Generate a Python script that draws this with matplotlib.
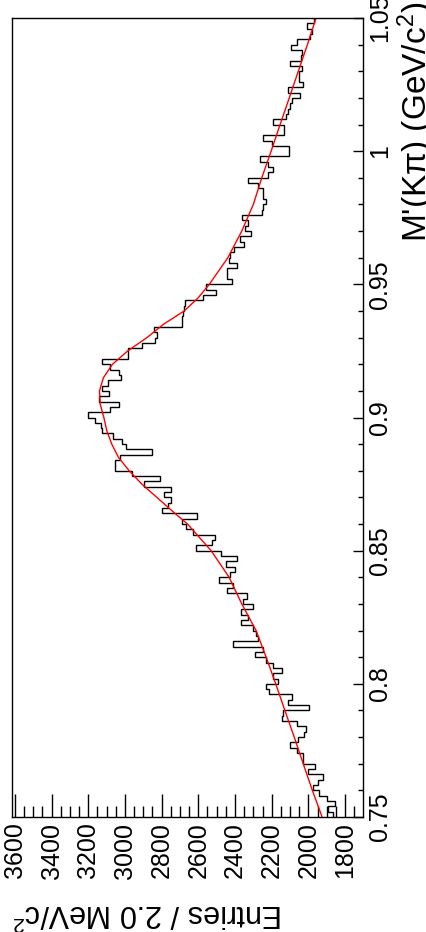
import numpy as np
import matplotlib.pyplot as plt

plt.rcParams['font.family'] = ['Liberation Sans', 'DejaVu Sans']
plt.rcParams['mathtext.fontset'] = 'custom'
plt.rcParams['mathtext.rm'] = 'Liberation Sans'
plt.rcParams['mathtext.it'] = 'Liberation Sans:italic'

# ── Data ──────────────────────────────────────────────────────────
M_LO, BIN_W = 0.75, 0.002

counts = [
    1864, 1891, 1857, 1900, 1942, 1973, 1946, 1918, 2000, 1964,
    2027, 2027, 2063, 2100, 2054, 2023, 2012, 2063, 2142, 2136,
    1994, 2113, 2088, 2212, 2232, 2167, 2191, 2145, 2191, 2232,
    2290, 2245, 2409, 2272, 2284, 2303, 2369, 2327, 2367, 2303,
    2358, 2336, 2441, 2412, 2487, 2427, 2400, 2449, 2387, 2477,
    2612, 2527, 2509, 2627, 2667, 2687, 2608, 2799, 2768, 2748,
    2785, 2748, 2894, 2808, 2959, 3057, 3057, 3026, 2854, 2995,
    3017, 3063, 3126, 3130, 3166, 3199, 3084, 3035, 3141, 3086,
    3123, 3090, 3021, 3035, 3081, 3123, 2984, 2981, 2908, 2836,
    2823, 2841, 2690, 2690, 2684, 2680, 2672, 2572, 2503, 2558,
    2418, 2445, 2445, 2390, 2431, 2425, 2403, 2349, 2373, 2314,
    2345, 2327, 2364, 2254, 2245, 2231, 2245, 2245, 2272, 2327,
    2218, 2191, 2218, 2263, 2103, 2103, 2200, 2249, 2132, 2132,
    2191, 2122, 2113, 2100, 2091, 2045, 2113, 2031, 2049, 2049,
    2036, 2100, 2042, 2036, 2094, 2063, 1991, 1982, 2009, 1969,
]

fit_mass = [0.75, 0.76, 0.77, 0.78, 0.79, 0.80, 0.81, 0.82, 0.83, 0.84,
            0.85, 0.86, 0.865, 0.87, 0.875, 0.88, 0.885, 0.89, 0.895, 0.90,
            0.905, 0.91, 0.915, 0.92, 0.925, 0.93, 0.935, 0.94, 0.945, 0.95,
            0.96, 0.97, 0.98, 0.99, 1.00, 1.01, 1.02, 1.03, 1.04, 1.05]
fit_counts = [1925, 1978, 2028, 2077, 2128, 2178, 2230, 2285, 2363, 2432,
              2530, 2659, 2744, 2826, 2908, 2977, 3035, 3072, 3099, 3115,
              3135, 3139, 3117, 3068, 2985, 2880, 2790, 2677, 2600, 2540,
              2439, 2363, 2300, 2254, 2203, 2154, 2104, 2055, 2005, 1958]

count_ticks = [1800, 2000, 2200, 2400, 2600, 2800, 3000, 3200, 3400, 3600]
count_labels = [str(t) for t in count_ticks]
mass_ticks = [0.75, 0.80, 0.85, 0.90, 0.95, 1.00, 1.05]
mass_labels = ['0.75', '0.8', '0.85', '0.9', '0.95', '1', '1.05']

# ── Figure (drawn in the rotated frame of the reference) ──────────
fig = plt.figure(figsize=(4.27, 9.32), dpi=100)
ax = fig.add_axes([12 / 427, 115 / 932, 351 / 427, 799 / 932])

edges = M_LO + BIN_W * np.arange(len(counts) + 1)
ax.stairs(counts, edges, orientation='horizontal', baseline=None,
          color='black', lw=1.0)
ax.plot(fit_counts, fit_mass, color='red', lw=1.0)

ax.set_xlim(3616, 1702)
ax.set_ylim(0.75, 1.05)

ax.set_xticks(count_ticks)
ax.set_xticklabels(count_labels, rotation=90, fontsize=18)
ax.set_xticks(np.arange(1750, 3616, 50), minor=True)
ax.tick_params(axis='x', which='major', direction='in', length=16.5,
               width=1, pad=4, top=False, bottom=True)
ax.tick_params(axis='x', which='minor', direction='in', length=8,
               width=1, top=False, bottom=True)

ax.yaxis.tick_right()
ax.set_yticks(mass_ticks)
ax.set_yticklabels(mass_labels, rotation=90, fontsize=18, va='center')
ax.set_yticks(np.arange(0.75, 1.0501, 0.01), minor=True)
ax.tick_params(axis='y', which='major', direction='in', length=7.2,
               width=1, pad=3.5, left=False, right=True)
ax.tick_params(axis='y', which='minor', direction='in', length=3.6,
               width=1, left=False, right=True)

for s in ax.spines.values():
    s.set_linewidth(1.0)

fig.text(12 / 427, 1 - 904 / 932, 'Entries / 2.0 MeV/c$^{2}$',
         rotation=180, rotation_mode='anchor', ha='right', va='baseline',
         fontsize=22)
fig.text(427 / 427, 1 - 2 / 932, "M'(K\u03c0) (GeV/c$^{2}$)",
         rotation=90, rotation_mode='anchor', ha='right', va='baseline',
         fontsize=24)

fig.savefig('out.png', dpi=100)
